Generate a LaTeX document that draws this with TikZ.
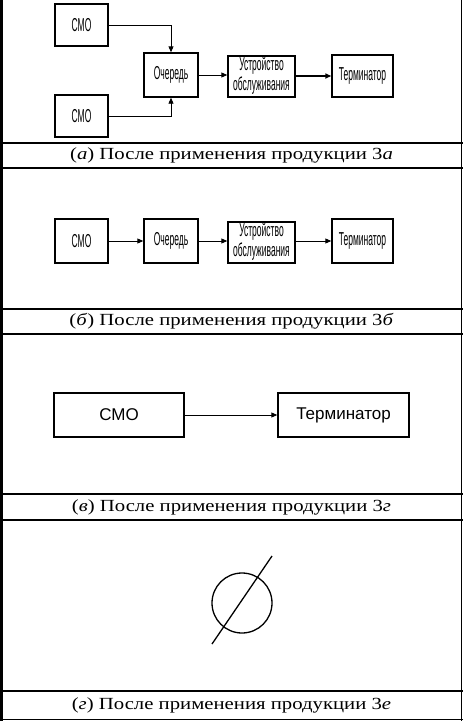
\documentclass[tikz,border=0pt]{standalone}
\usepackage{graphicx}
\usepackage{fontspec}
\setmainfont{Liberation Serif}
\newfontfamily\arialfont{Liberation Sans}
\usepackage{tikz}
\usetikzlibrary{arrows.meta,calc,positioning}
\newcommand{\sq}[1]{\scalebox{0.5}[1.1]{#1}}
\newcommand{\capt}[1]{\scalebox{1.22}[1]{#1}}
\begin{document}
\begin{tikzpicture}[x=1pt,y=-1pt,
  blk/.style={draw,line width=1.4pt,inner sep=0pt,font=\arialfont\fontsize{17}{19}\selectfont},
  arr/.style={-{Triangle[length=6pt,width=5pt]},line width=0.9pt},
  rule/.style={line width=1.3pt},
  capline/.style={font=\fontsize{17}{20}\selectfont}]
\useasboundingbox (0,0) rectangle (463,721);
% frame of the table
\draw[line width=2.7pt] (1.35,0) -- (1.35,721);
\draw[line width=1.5pt] (461.5,0) -- (461.5,721);
\foreach \y in {143,168,309,334,494,520,691,719.8}
  \draw[rule] (0,\y) -- (463,\y);
% (a)
\node[blk,minimum width=53pt,minimum height=42pt] (smoA) at (81.5,25) {\sq{СМО}};
\node[blk,minimum width=53pt,minimum height=42pt] (smoB) at (81.5,116) {\sq{СМО}};
\node[blk,minimum width=54pt,minimum height=44pt] (queueA) at (171,75) {\sq{Очередь}};
\node[blk,minimum width=67pt,minimum height=41pt] (serverA) at (261.5,76.5) {\sq{\begin{tabular}{@{}c@{}}Устройство\\[-1pt]обслуживания\end{tabular}}};
\node[blk,minimum width=61pt,minimum height=42pt] (termA) at (362.5,76) {\sq{Терминатор}};
\draw[arr] (smoA.east) -| (queueA.north);
\draw[arr] (smoB.east) -| (queueA.south);
\draw[arr] (queueA.east) -- (serverA.west |- queueA.east);
\draw[arr,line width=1.8pt] (serverA.east |- termA.west) -- (termA.west);
\node[capline] (capA) at (231.5,155.5) {\capt{(\textit{а}) После применения продукции 3\textit{а}}};
% (b)
\node[blk,minimum width=53pt,minimum height=44pt] (smoB2) at (81.5,241) {\sq{СМО}};
\node[blk,minimum width=54pt,minimum height=44pt] (queueB) at (171,241) {\sq{Очередь}};
\node[blk,minimum width=67pt,minimum height=41pt] (serverB) at (261.5,242.5) {\sq{\begin{tabular}{@{}c@{}}Устройство\\[-1pt]обслуживания\end{tabular}}};
\node[blk,minimum width=61pt,minimum height=44pt] (termB) at (362.5,241) {\sq{Терминатор}};
\draw[arr] (smoB2.east) -- (queueB.west);
\draw[arr] (queueB.east) -- (serverB.west |- queueB.east);
\draw[arr] (serverB.east |- termB.west) -- (termB.west);
\node[capline] (capB) at (231.5,321.5) {\capt{(\textit{б}) После применения продукции 3\textit{б}}};
% (c)
\node[blk,minimum width=130pt,minimum height=44pt] (smoC) at (119,415) {СМО};
\node[blk,minimum width=131pt,minimum height=44pt] (termC) at (343.5,415) {Терминатор};
\draw[arr] (smoC.east) -- (termC.west);
\node[capline] (capC) at (231.5,507) {\capt{(\textit{в}) После применения продукции 3\textit{г}}};
% (d) empty symbol
\draw[line width=1.3pt] (242,603) circle (30);
\draw[line width=1.3pt] (212,644) -- (272,556);
\node[capline] (capD) at (231.5,705.5) {\capt{(\textit{г}) После применения продукции 3\textit{е}}};
\end{tikzpicture}
\end{document}
